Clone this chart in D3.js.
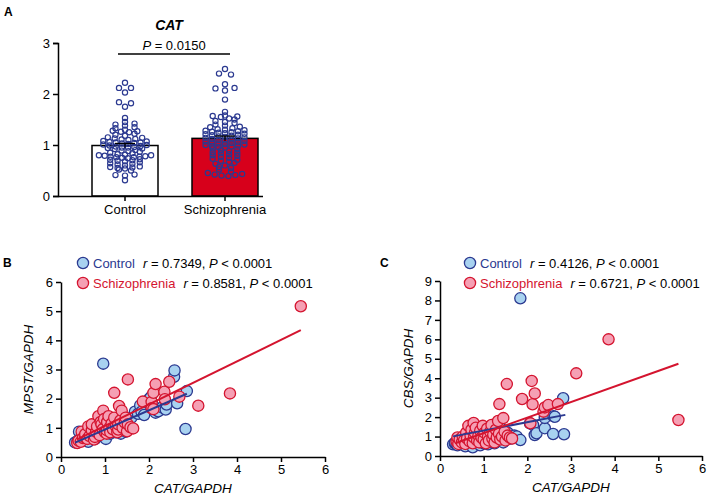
<!DOCTYPE html>
<html><head><meta charset="utf-8">
<script src="https://cdn.jsdelivr.net/npm/d3@7"></script>
<style>
body{margin:0;background:#fff;}
svg text{font-family:"Liberation Sans",Arial,sans-serif;}
</style></head>
<body><svg id="c" width="707" height="498"></svg>
<script>
// ---------- DATA ----------
const groups = ["Control", "Schizophrenia"];
const catMeans = [0.99, 1.13];
const catSEM = [0.04, 0.045];
const catP = "0.0150";
const ctrlCAT = [2.22,2.12,2.12,2.03,1.84,1.82,1.75,1.53,1.45,1.42,1.40,1.38,1.35,1.33,1.30,1.28,1.27,1.26,1.25,1.22,1.20,1.18,1.15,1.14,1.13,1.12,1.11,1.10,1.08,1.07,1.06,1.05,1.05,1.04,1.03,1.02,1.01,1.00,0.99,0.98,0.97,0.96,0.95,0.95,0.94,0.93,0.92,0.90,0.89,0.88,0.87,0.85,0.84,0.82,0.81,0.80,0.80,0.79,0.78,0.77,0.77,0.76,0.76,0.75,0.74,0.72,0.71,0.70,0.69,0.68,0.66,0.64,0.63,0.62,0.60,0.58,0.57,0.56,0.55,0.54,0.52,0.50,0.42,0.41,0.40,0.31];
const sczCAT = [2.49,2.40,2.38,2.19,2.12,2.11,2.07,1.89,1.65,1.58,1.57,1.56,1.55,1.52,1.50,1.47,1.45,1.43,1.40,1.38,1.36,1.35,1.33,1.31,1.30,1.29,1.28,1.27,1.26,1.25,1.24,1.23,1.22,1.21,1.20,1.19,1.18,1.17,1.16,1.15,1.14,1.13,1.12,1.11,1.10,1.09,1.08,1.07,1.06,1.05,1.04,1.03,1.02,1.01,1.00,0.99,0.98,0.97,0.96,0.95,0.93,0.92,0.90,0.88,0.86,0.85,0.84,0.82,0.80,0.79,0.77,0.75,0.73,0.71,0.69,0.67,0.65,0.63,0.60,0.57,0.55,0.52,0.48,0.45,0.43,0.42,0.41,0.40,0.39];
const yTicksA = [0,1,2,3];

// Panel B: CAT/GAPDH vs MPST/GAPDH
const ctrlB = [[0.32,0.50],[0.38,0.55],[0.41,0.87],[0.45,0.65],[0.50,0.58],[0.55,0.75],[0.58,0.62],[0.62,0.52],[0.65,0.85],[0.70,0.70],[0.72,0.95],[0.78,0.62],[0.80,0.80],[0.85,1.00],[0.88,0.72],[0.92,0.88],[0.96,3.20],[0.98,0.70],[1.00,1.05],[1.02,0.62],[1.05,0.90],[1.10,1.15],[1.12,0.80],[1.18,0.95],[1.22,1.20],[1.25,0.85],[1.30,1.05],[1.36,0.80],[1.38,1.30],[1.47,0.87],[1.45,1.10],[1.50,1.25],[1.55,1.00],[1.60,1.35],[1.68,1.55],[1.75,1.48],[1.80,1.77],[1.83,1.55],[1.89,1.44],[2.00,1.98],[2.04,2.05],[2.10,1.75],[2.15,1.52],[2.21,1.57],[2.30,1.70],[2.38,1.63],[2.40,1.80],[2.57,2.75],[2.58,2.97],[2.64,1.84],[2.83,0.96],[2.86,2.26]];
const sczB = [[0.37,0.48],[0.40,0.56],[0.45,0.52],[0.47,0.87],[0.50,0.65],[0.55,0.67],[0.55,0.78],[0.60,0.62],[0.62,1.05],[0.65,0.72],[0.70,0.92],[0.70,1.12],[0.75,0.60],[0.77,0.69],[0.80,0.86],[0.82,1.05],[0.85,1.40],[0.88,0.75],[0.90,1.20],[0.92,1.12],[0.95,0.95],[0.96,1.59],[0.98,1.30],[1.00,0.85],[1.04,0.80],[1.04,0.92],[1.05,1.20],[1.08,1.40],[1.10,1.00],[1.12,0.85],[1.15,1.15],[1.18,0.95],[1.21,1.35],[1.21,2.20],[1.25,1.05],[1.28,0.85],[1.30,0.94],[1.30,1.12],[1.32,1.75],[1.35,1.25],[1.38,1.59],[1.40,1.00],[1.45,1.18],[1.47,1.35],[1.50,0.88],[1.52,1.12],[1.52,2.66],[1.58,1.02],[1.64,0.98],[1.86,1.90],[2.06,1.89],[2.06,1.67],[2.10,1.64],[2.10,2.20],[2.15,2.50],[2.35,2.24],[2.36,1.98],[2.46,2.58],[2.69,2.07],[3.12,1.76],[3.84,2.18],[5.45,5.17]];
// Panel C: CAT/GAPDH vs CBS/GAPDH
const ctrlC = [[0.30,0.60],[0.34,0.65],[0.35,0.70],[0.40,0.55],[0.45,0.80],[0.50,0.65],[0.55,0.95],[0.58,0.50],[0.62,0.75],[0.65,1.10],[0.70,0.60],[0.72,0.85],[0.75,0.45],[0.80,1.00],[0.85,0.70],[0.88,1.20],[0.92,0.55],[0.95,0.90],[1.00,0.65],[1.02,1.10],[1.05,0.80],[1.10,0.60],[1.12,1.30],[1.18,0.75],[1.22,1.00],[1.25,0.65],[1.30,1.15],[1.35,0.85],[1.40,1.40],[1.45,0.70],[1.50,1.00],[1.55,1.20],[1.62,0.90],[1.70,1.05],[1.76,1.00],[1.84,0.82],[1.84,8.11],[2.06,1.68],[2.13,1.60],[2.17,1.08],[2.21,1.17],[2.40,1.43],[2.40,1.96],[2.59,1.13],[2.60,2.05],[2.63,2.02],[2.82,2.97],[2.84,1.12]];
const sczC = [[0.38,0.75],[0.40,0.95],[0.42,0.62],[0.45,0.85],[0.50,0.70],[0.52,1.00],[0.55,0.80],[0.58,0.62],[0.60,1.20],[0.62,0.90],[0.65,1.55],[0.68,0.75],[0.70,1.05],[0.72,1.35],[0.75,0.65],[0.77,1.70],[0.78,0.95],[0.80,1.20],[0.82,1.45],[0.85,0.80],[0.88,1.05],[0.90,0.70],[0.92,1.30],[0.95,0.95],[0.98,1.55],[1.00,0.85],[1.02,1.20],[1.05,0.65],[1.08,1.40],[1.10,1.00],[1.12,0.80],[1.15,1.25],[1.18,1.60],[1.20,0.90],[1.22,1.10],[1.25,0.70],[1.28,1.35],[1.30,0.95],[1.33,1.80],[1.35,1.15],[1.36,2.67],[1.38,0.85],[1.42,1.00],[1.45,1.95],[1.48,1.25],[1.50,0.80],[1.53,3.70],[1.55,1.05],[1.60,0.95],[1.65,0.90],[1.88,2.93],[2.07,1.68],[2.10,3.86],[2.12,2.66],[2.17,3.22],[2.37,2.28],[2.40,2.50],[2.48,2.62],[2.70,2.67],[3.12,4.25],[3.86,6.00],[5.46,1.85]];
// regression fits [slope, intercept, xmin, xmax]
const fitB = {ctrl:[0.66,0.28,0.32,2.86], scz:[0.738,0.328,0.37,5.45]};
const fitC = {ctrl:[0.43,0.88,0.30,2.87], scz:[0.80,0.374,0.38,5.46]};
const statsB = {ctrl:["0.7349","0.0001"], scz:["0.8581","0.0001"]};
const statsC = {ctrl:["0.4126","0.0001"], scz:["0.6721","0.0001"]};
const xTicksBC = [0,1,2,3,4,5,6];
const yTicksB = [0,1,2,3,4,5,6];
const yTicksC = [0,1,2,3,4,5,6,7,8,9];

// ---------- STYLE ----------
const NAVY = "#2b3990", RED = "#d7001b", BLUE_F = "#a8d2f0", PINK_F = "#f5a0b4", PINK_S = "#d4142f";
const FS = 13;
const svg = d3.select("#c");

function styleAxis(g){
  g.selectAll("path").attr("stroke","#000").attr("stroke-width",1.5);
  g.selectAll("line").attr("stroke","#000").attr("stroke-width",1.5);
  g.selectAll("text").attr("font-size",FS).attr("fill","#000").attr("font-family","Liberation Sans, Arial, sans-serif");
}

// ---------- PANEL A ----------
(function(){
  const y = d3.scaleLinear().domain([0,3]).range([196,43]);
  const x = d3.scaleBand().domain(groups).range([75,275]).paddingInner(0.34).paddingOuter(0.17);
  const g = svg.append("g");
  g.selectAll("rect.bar").data(groups).join("rect")
    .attr("x", d=>x(d)).attr("width", x.bandwidth())
    .attr("y", (d,i)=>y(catMeans[i])).attr("height",(d,i)=>y(0)-y(catMeans[i]))
    .attr("fill",(d,i)=>i===0?"#fff":RED).attr("stroke","#000").attr("stroke-width",1.5);
  const r = 2.6, binW = 0.07, maxSpan = 62;
  [ctrlCAT, sczCAT].forEach((vals,gi)=>{
    const cx0 = x(groups[gi]) + x.bandwidth()/2;
    const bins = d3.group(vals, v=>Math.round(v/binW));
    const placed = [];
    bins.forEach(arr=>{
      arr.sort((a,b)=>a-b);
      const n = arr.length;
      const s = n>1 ? Math.min(12, 4.2 + 16/n, maxSpan/(n-1)) : 0;
      const order = [...Array(n).keys()].map(k=>(k%2===0?1:-1)*Math.ceil(k/2)).sort((a,b)=>a-b);
      arr.forEach((v,j)=>{
        const slot = (j%2===0 ? 1 : -1)*Math.ceil(j/2);
        const idx = order.indexOf(slot);
        placed.push([cx0 + (idx-(n-1)/2)*s, y(v)]);
      });
    });
    g.selectAll(null).data(placed).join("circle")
      .attr("cx",d=>d[0]).attr("cy",d=>d[1]).attr("r",r)
      .attr("fill","none").attr("stroke",NAVY).attr("stroke-width",1.2);
  });
  groups.forEach((d,i)=>{
    const cx = x(d)+x.bandwidth()/2;
    g.append("line").attr("x1",cx).attr("x2",cx).attr("y1",y(catMeans[i]+catSEM[i])).attr("y2",y(catMeans[i]-catSEM[i])).attr("stroke","#000").attr("stroke-width",1.3);
    g.append("line").attr("x1",cx-10).attr("x2",cx+10).attr("y1",y(catMeans[i]+catSEM[i])).attr("y2",y(catMeans[i]+catSEM[i])).attr("stroke","#000").attr("stroke-width",1.3);
  });
  const ya = g.append("g").attr("transform","translate(58,0)").call(d3.axisLeft(y).tickValues(yTicksA).tickFormat(d3.format("d")).tickSize(5).tickPadding(3));
  styleAxis(ya);
  const xa = g.append("g").attr("transform","translate(0,196)").call(d3.axisBottom(x).tickSize(5).tickPadding(4).tickSizeOuter(0));
  styleAxis(xa);
  xa.select("path").attr("d","M58,0.5H263");
  g.append("text").attr("x",169).attr("y",30).attr("text-anchor","middle").attr("font-size",14).attr("font-weight","bold").attr("font-style","italic").text("CAT");
  g.append("line").attr("x1",118).attr("x2",230).attr("y1",54).attr("y2",54).attr("stroke","#000").attr("stroke-width",1.3);
  const pt = g.append("text").attr("x",174).attr("y",50).attr("text-anchor","middle").attr("font-size",FS);
  pt.append("tspan").attr("font-style","italic").text("P");
  pt.append("tspan").text(" = "+catP);
  g.append("text").attr("x",4).attr("y",16).attr("font-size",12).attr("font-weight","bold").text("A");
})();

// ---------- SCATTER PANELS ----------
function scatter(opts){
  const {x0,x1,y0,y1,ymax,yTicks,ctrl,scz,fit,stats,ylab,letter,lx,ly,legX} = opts;
  const x = d3.scaleLinear().domain([0,6]).range([x0,x1]);
  const y = d3.scaleLinear().domain([0,ymax]).range([y0,y1]);
  const g = svg.append("g");
  const xa = g.append("g").attr("transform",`translate(0,${y0})`).call(d3.axisBottom(x).tickValues(xTicksBC).tickFormat(d3.format("d")).tickSize(5).tickPadding(3).tickSizeOuter(0));
  styleAxis(xa);
  const ya = g.append("g").attr("transform",`translate(${x0},0)`).call(d3.axisLeft(y).tickValues(yTicks).tickFormat(d3.format("d")).tickSize(5).tickPadding(3).tickSizeOuter(0));
  styleAxis(ya);
  const R = 5.6;
  g.selectAll(null).data(ctrl).join("circle").attr("cx",d=>x(d[0])).attr("cy",d=>y(d[1])).attr("r",R)
    .attr("fill",BLUE_F).attr("stroke",NAVY).attr("stroke-width",1.3);
  g.selectAll(null).data(scz).join("circle").attr("cx",d=>x(d[0])).attr("cy",d=>y(d[1])).attr("r",R)
    .attr("fill",PINK_F).attr("stroke",PINK_S).attr("stroke-width",1.3);
  [["ctrl",NAVY],["scz",PINK_S]].forEach(([k,c])=>{
    const f = fit[k];
    g.append("line").attr("x1",x(f[2])).attr("y1",y(f[0]*f[2]+f[1])).attr("x2",x(f[3])).attr("y2",y(f[0]*f[3]+f[1]))
      .attr("stroke",c).attr("stroke-width",2);
  });
  g.append("text").attr("x",(x0+x1)/2).attr("y",y0+36).attr("text-anchor","middle").attr("font-size",FS+0.5).attr("font-style","italic").text("CAT/GAPDH");
  g.append("text").attr("transform",`translate(${lx},${(y0+y1)/2}) rotate(-90)`).attr("text-anchor","middle").attr("font-size",FS+0.5).attr("font-style","italic").text(ylab);
  g.append("text").attr("x",letter[0]).attr("y",letter[1]).attr("font-size",12).attr("font-weight","bold").text(letter[2]);
  [["ctrl","Control",BLUE_F,NAVY,NAVY,0],["scz","Schizophrenia",PINK_F,PINK_S,PINK_S,1]].forEach(([k,lab,f,s,tc,i])=>{
    const cy = ly + i*20;
    g.append("circle").attr("cx",legX).attr("cy",cy).attr("r",R).attr("fill",f).attr("stroke",s).attr("stroke-width",1.3);
    const t = g.append("text").attr("x",legX+10).attr("y",cy+4.5).attr("font-size",FS);
    t.append("tspan").attr("fill",tc).text(lab);
    t.append("tspan").attr("fill","#000").attr("font-style","italic").attr("dx",8).text("r");
    t.append("tspan").attr("fill","#000").text(" = "+stats[k][0]+", ");
    t.append("tspan").attr("fill","#000").attr("font-style","italic").text("P");
    t.append("tspan").attr("fill","#000").text(" < "+stats[k][1]);
  });
}
scatter({x0:61,x1:325,y0:457,y1:282,ymax:6,yTicks:yTicksB,ctrl:ctrlB,scz:sczB,fit:fitB,stats:statsB,ylab:"MPST/GAPDH",letter:[3,267,"B"],lx:33,ly:263,legX:83});
scatter({x0:440,x1:702,y0:456,y1:281,ymax:9,yTicks:yTicksC,ctrl:ctrlC,scz:sczC,fit:fitC,stats:statsC,ylab:"CBS/GAPDH",letter:[380,267,"C"],lx:413,ly:263,legX:470});
</script></body></html>
